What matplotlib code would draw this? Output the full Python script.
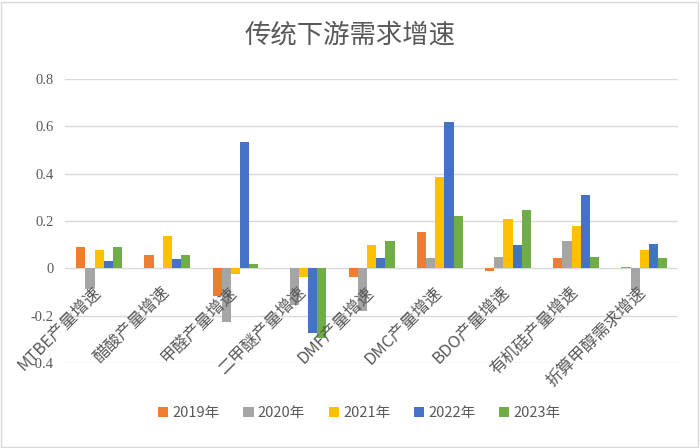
import matplotlib
matplotlib.use("Agg")
import matplotlib.pyplot as plt
import numpy as np

plt.rcParams['font.family'] = ['Noto Sans CJK SC', 'DejaVu Sans']

categories = ['MTBE产量增速', '醋酸产量增速', '甲醛产量增速', '二甲醚产量增速', 'DMF产量增速',
              'DMC产量增速', 'BDO产量增速', '有机硅产量增速', '折算甲醇需求增速']
years = ['2019年', '2020年', '2021年', '2022年', '2023年']

v2019 = [0.089, 0.054, -0.118, 0.0, -0.039, 0.152, -0.013, 0.041, 0.005]
v2020 = [-0.086, 0.0, -0.228, -0.154, -0.182, 0.041, 0.049, 0.117, -0.090]
v2021 = [0.079, 0.138, -0.025, -0.036, 0.097, 0.385, 0.206, 0.180, 0.078]
v2022 = [0.030, 0.037, 0.534, -0.273, 0.041, 0.617, 0.100, 0.310, 0.101]
v2023 = [0.089, 0.057, 0.016, -0.294, 0.113, 0.220, 0.247, 0.049, 0.041]

colors = ['#ED7D31', '#A5A5A5', '#FFC000', '#4472C4', '#70AD47']
series = [v2019, v2020, v2021, v2022, v2023]

fig = plt.figure(figsize=(7, 4.48), dpi=100)
ax = fig.add_axes([0.093, 0.19, 0.876, 0.634])

x = np.arange(len(categories))
w = 0.134
for k, (vals, c, lab) in enumerate(zip(series, colors, years)):
    ax.bar(x + (k - 2) * w, vals, width=w, color=c, label=lab, zorder=3)

ax.set_xlim(-0.5, len(categories) - 0.5)
ax.set_ylim(-0.4, 0.8)
ax.set_yticks(np.arange(-0.4, 0.81, 0.2))
ax.set_yticklabels(['-0.4', '-0.2', '0', '0.2', '0.4', '0.6', '0.8'],
                   fontsize=10.5, color='#595959', family='Liberation Serif')
ax.yaxis.grid(True, color='#D9D9D9', linewidth=1, zorder=0)
ax.tick_params(axis='y', length=0, pad=8)
ax.set_xticks([])
for s in ax.spines.values():
    s.set_visible(False)

# rotated category labels, ending just below the zero line
for i, lab in enumerate(categories):
    ax.text(i - 0.1, -0.065, lab, rotation=45, rotation_mode='anchor',
            ha='right', va='top', fontsize=12, color='#595959')

fig.text(0.5, 0.922, '传统下游需求增速', ha='center', va='center',
         fontsize=19, color='#595959')

ax.legend(loc='center', bbox_to_anchor=(0.48, -0.176), ncol=5, frameon=False,
          fontsize=10.5, handlelength=0.7, handleheight=0.7, handletextpad=0.3,
          columnspacing=1.6, labelcolor='#595959')

fig.patches.append(plt.Rectangle((0.002, 0.003), 0.995, 0.993, transform=fig.transFigure,
                                 fill=False, edgecolor='#D9D9D9', linewidth=1))

fig.savefig('out.png', dpi=100)
